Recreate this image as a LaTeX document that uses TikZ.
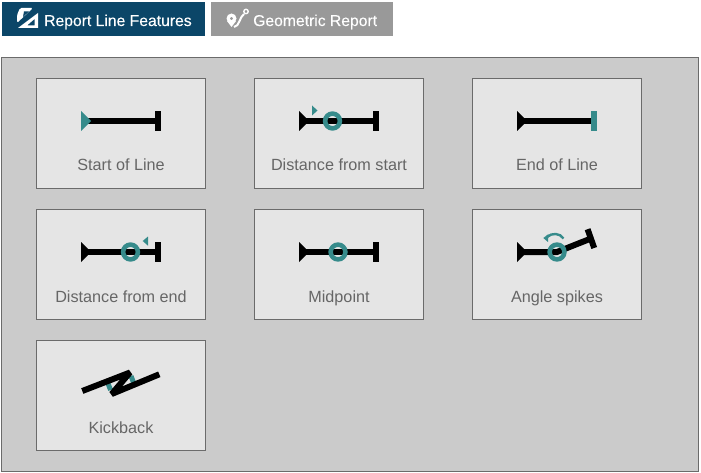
\documentclass[tikz,border=0pt]{standalone}
\usepackage{fontspec}
\setmainfont{Liberation Sans}
\newfontfamily\medfont[FakeBold=0.25]{Liberation Sans}
\definecolor{navy}{HTML}{0B4668}
\definecolor{btngray}{HTML}{999999}
\definecolor{panel}{HTML}{CBCBCB}
\definecolor{card}{HTML}{E5E5E5}
\definecolor{edge}{HTML}{6B6B6B}
\definecolor{tealc}{HTML}{368B8B}
\definecolor{labelc}{HTML}{666666}
\tikzset{
  cardbox/.style={draw=edge,fill=card,line width=1pt,minimum width=169pt,minimum height=110pt,inner sep=0pt,anchor=north west},
  cardlabel/.style={text=labelc,font=\fontsize{16.2}{18}\selectfont,inner sep=0pt,anchor=base},
  btn/.style={inner sep=0pt,anchor=north west,minimum height=34pt},
  btnlabel/.style={text=white,font=\medfont\fontsize{15.7}{18}\selectfont,inner sep=0pt,anchor=base west},
  wire/.style={line width=6pt,black},
  ring/.style={draw=tealc,line width=4.6pt}
}
\newcommand{\startmark}[3]{\fill[#3] (#1,#2-10) -- (#1+10,#2) -- (#1,#2+10) -- cycle;}
\newcommand{\stopbar}[3]{\fill[#3] (#1,#2-10) rectangle (#1+6,#2+10);}
\begin{document}
\begin{tikzpicture}[x=1pt,y=-1pt]
\useasboundingbox (0,0) rectangle (701,473);
\fill[white] (0,0) rectangle (701,473);
\node[btn,fill=navy,minimum width=203pt] (b1) at (2,2) {};
\node[btn,fill=btngray,minimum width=182pt] (b2) at (211,2) {};
\node[btnlabel] (t1) at (44,26) {Report Line Features};
\node[btnlabel] (t2) at (253,26) {Geometric Report};
\node[draw=edge,fill=panel,line width=1pt,minimum width=697pt,minimum height=414pt,inner sep=0pt,anchor=north west] (pn) at (1,57) {};
\foreach \nm/\x/\y/\txt in {c1/36/78/Start of Line,c2/254/78/Distance from start,c3/472/78/End of Line,c4/36/209/Distance from end,c5/254/209/Midpoint,c6/472/209/Angle spikes,c7/36/340/Kickback}{
  \node[cardbox] (\nm) at (\x,\y) {};
  \node[cardlabel] (\nm l) at (\x+85,\y+93) {\txt};
}
% Start of line
\draw[wire] (88,121) -- (156,121);
\startmark{81}{121}{tealc}
\stopbar{155}{121}{black}
% Distance from start
\draw[wire] (306,121) -- (374,121);
\startmark{299}{121}{black}
\stopbar{373}{121}{black}
\draw[ring] (332.5,121) circle (7.4);
\fill[tealc] (312,105.5) -- (317.5,110.5) -- (312,115.5) -- cycle;
% End of line
\draw[wire] (524,121) -- (592,121);
\startmark{517}{121}{black}
\stopbar{591}{121}{tealc}
% Distance from end
\draw[wire] (88,252) -- (156,252);
\startmark{81}{252}{black}
\stopbar{155}{252}{black}
\draw[ring] (130.5,252) circle (7.4);
\fill[tealc] (148,236.5) -- (142.7,241) -- (148,245.7) -- cycle;
% Midpoint
\draw[wire] (306,252) -- (374,252);
\startmark{299}{252}{black}
\stopbar{373}{252}{black}
\draw[ring] (338,252) circle (7.4);
% Angle spikes
\draw[wire] (524,252) -- (557,252) -- (591,238.5);
\startmark{517}{252}{black}
\draw[line width=6pt,black] (587.6,229.2) -- (594.2,248);
\draw[ring] (557,252) circle (7.4);
\draw[tealc,line width=2.4pt] (563.5,238.5) .. controls (560,233) and (552,232.5) .. (547,237);
\fill[tealc] (543.3,238) -- (548.5,234) -- (548,242) -- cycle;
% Kickback
\draw[tealc,line width=5pt] (108.2,384) -- (110.6,390);
\draw[tealc,line width=5pt] (131,376) -- (133.5,382.5);
\draw[line width=6pt,black,line join=bevel] (82.3,391) -- (130,372.5) -- (111.7,394) -- (159.3,374.3);
% Button icons
\fill[white,rounded corners=1.5pt] (17,15) -- (20,8) -- (33,8) -- (17,23) -- cycle;
\fill[navy] (23,17) -- (29,11.5) -- (24,11.5) -- cycle;
\fill[white,even odd rule] (38,13) -- (38,28) -- (18,28) -- cycle (34.5,19) -- (27,25.5) -- (34.5,25.5) -- cycle;
\fill[white,even odd rule] (231.5,18.5) circle (5) (231.5,18.5) circle (1.8);
\fill[white] (227,21) -- (231.5,27) -- (236,21) -- cycle;
\draw[white,line width=2pt] (234,27) .. controls (239.5,26.5) and (239.5,17) .. (244,14);
\draw[white,line width=1.4pt] (246,11.5) circle (2.2);
\end{tikzpicture}
\end{document}
